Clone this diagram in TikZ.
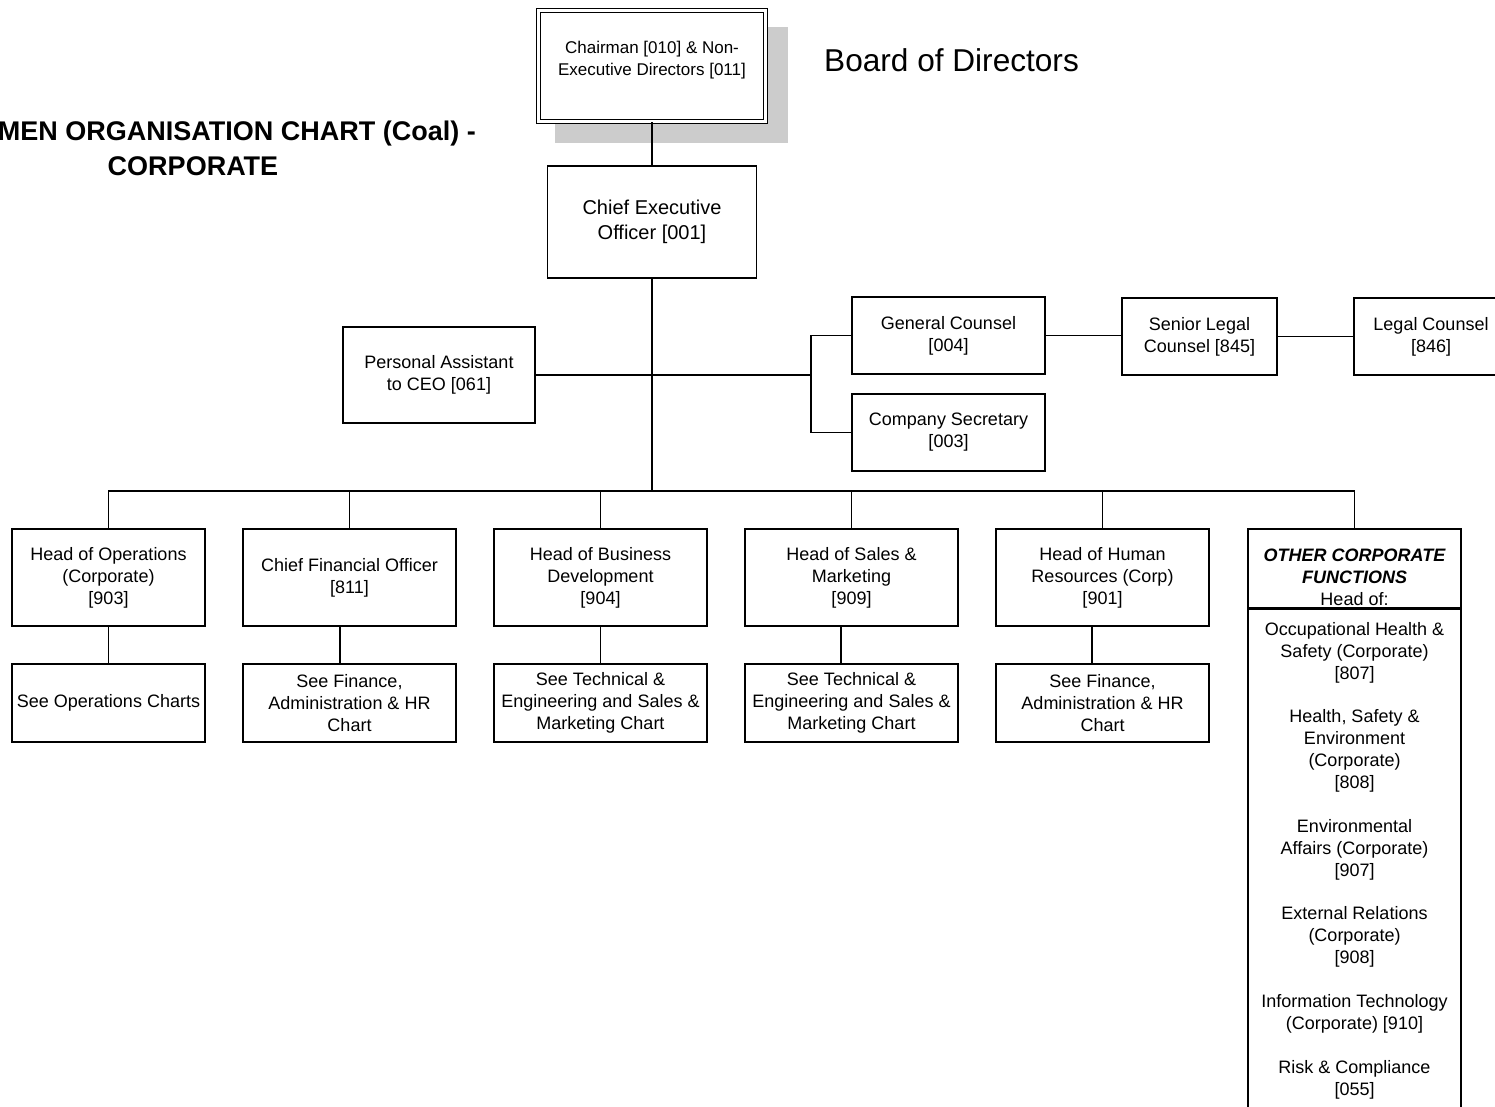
\documentclass[tikz,border=0pt]{standalone}
\usepackage{fontspec}
\setmainfont{Liberation Sans}
\newcommand\myfsa{\fontsize{18}{22}\selectfont}
\newcommand\myfsb{\fontsize{20}{25}\selectfont}
\newcommand\myfsc{\fontsize{17}{22}\selectfont}
\definecolor{shadowgray}{HTML}{CCCCCC}
\begin{document}
\begin{tikzpicture}[x=1pt,y=-1pt,
  box/.style={draw, line width=1.6pt, rectangle, inner sep=0pt, align=center, font=\myfsa, fill=white},
  conn/.style={line width=1.6pt},
  txt/.style={inner sep=0pt, align=center, font=\myfsa}]
\useasboundingbox (0,0) rectangle (1495,1107);

% title
\node[anchor=east, inner sep=0pt, font=\bfseries\fontsize{27}{32}\selectfont] (title1) at (476,134) {MEN ORGANISATION CHART (Coal) -};
\node[inner sep=0pt, font=\bfseries\fontsize{27}{32}\selectfont] (title2) at (193,166) {CORPORATE};
\node[anchor=west, inner sep=0pt, font=\fontsize{31.6}{36}\selectfont] (board) at (824,60) {Board of Directors};

% chairman with shadow
\fill[shadowgray] (555,27) rectangle (788,143);
\node[box, double, double distance=2.4pt, line width=1.2pt, minimum width=227, minimum height=111] (chair) at (652,66) {};
\node[txt, font=\myfsc] (chairtext) at (652,60) {Chairman [010] \& Non-\\Executive Directors [011]};

% CEO
\node[box, font=\myfsb, minimum width=209, minimum height=112] (ceo) at (652,222) {Chief Executive\\Officer [001]};

% staff
\node[box, minimum width=192, minimum height=96] (pa) at (439,375) {Personal Assistant\\to CEO [061]};
\node[box, minimum width=193, minimum height=77] (gc) at (948.5,335.5) {General Counsel\\{[}004{]}};
\node[box, minimum width=155, minimum height=77] (slc) at (1199.5,336.5) {Senior Legal\\Counsel [845]};
\node[box, minimum width=154, minimum height=77] (lc) at (1431,336.5) {Legal Counsel\\{[}846{]}};
\node[box, minimum width=193, minimum height=77] (cs) at (948.5,432.5) {Company Secretary\\{[}003{]}};

% top row
\node[box, minimum width=193, minimum height=97] (hoo) at (108.5,577.5) {Head of Operations\\(Corporate)\\{[}903{]}};
\node[box, minimum width=213, minimum height=97] (cfo) at (349.5,577.5) {Chief Financial Officer\\{[}811{]}};
\node[box, minimum width=213, minimum height=97] (hbd) at (600.5,577.5) {Head of Business\\Development\\{[}904{]}};
\node[box, minimum width=213, minimum height=97] (hsm) at (851.5,577.5) {Head of Sales \&\\Marketing\\{[}909{]}};
\node[box, minimum width=213, minimum height=97] (hhr) at (1102.5,577.5) {Head of Human\\Resources (Corp)\\{[}901{]}};
\node[box, minimum width=213, minimum height=79] (oth) at (1354.5,568.5) {};
\node[txt] (othtext) at (1354.5,577) {\bfseries\itshape OTHER CORPORATE\\\bfseries\itshape FUNCTIONS\\Head of:};
\node[box, anchor=north, minimum width=213, minimum height=510] (lst) at (1354.5,608) {};
\node[txt, font=\fontsize{18}{21.9}\selectfont, anchor=north] (lsttext) at (1354.5,622) {Occupational Health \&\\Safety (Corporate)\\{[}807{]}\\[21.9pt]
Health, Safety \&\\Environment\\(Corporate)\\{[}808{]}\\[21.9pt]
Environmental\\Affairs (Corporate)\\{[}907{]}\\[21.9pt]
External Relations\\(Corporate)\\{[}908{]}\\[21.9pt]
Information Technology\\(Corporate) {[}910{]}\\[21.9pt]
Risk \& Compliance\\{[}055{]}};

% bottom row
\node[box, minimum width=193, minimum height=78] (hoob) at (108.5,703) {See Operations Charts};
\node[box, minimum width=213, minimum height=78] (cfob) at (349.5,703) {See Finance,\\Administration \& HR\\Chart};
\node[box, minimum width=213, minimum height=78] (hbdb) at (600.5,703) {See Technical \&\\Engineering and Sales \&\\Marketing Chart};
\node[box, minimum width=213, minimum height=78] (hsmb) at (851.5,703) {See Technical \&\\Engineering and Sales \&\\Marketing Chart};
\node[box, minimum width=213, minimum height=78] (hhrb) at (1102.5,703) {See Finance,\\Administration \& HR\\Chart};

% connectors
\coordinate (bus) at (652,491);
\coordinate (brk) at (811,375);
\draw[conn] (chair.south) -- (ceo.north);
\draw[conn] (ceo.south) -- (ceo.south |- bus);
\draw[conn] (pa.east) -- (brk);
\draw[conn] (gc.west) -| (brk) |- (cs.west);
\draw[conn] (gc.east) -- (gc.east -| slc.west);
\draw[conn] (slc.east) -- (lc.west);
\draw[conn] (hoo.north) |- (bus) -| (oth.north);
\foreach \n in {cfo,hbd,hsm,hhr} \draw[conn] (\n.north) -- (\n.north |- bus);
\draw[conn] (hoo.south) -- (hoob.north);
\draw[conn] ([xshift=-9.5pt]cfo.south) -- ([xshift=-9.5pt]cfob.north);
\draw[conn] (hbd.south) -- (hbdb.north);
\draw[conn] ([xshift=-10.5pt]hsm.south) -- ([xshift=-10.5pt]hsmb.north);
\draw[conn] ([xshift=-10.5pt]hhr.south) -- ([xshift=-10.5pt]hhrb.north);
\end{tikzpicture}
\end{document}
